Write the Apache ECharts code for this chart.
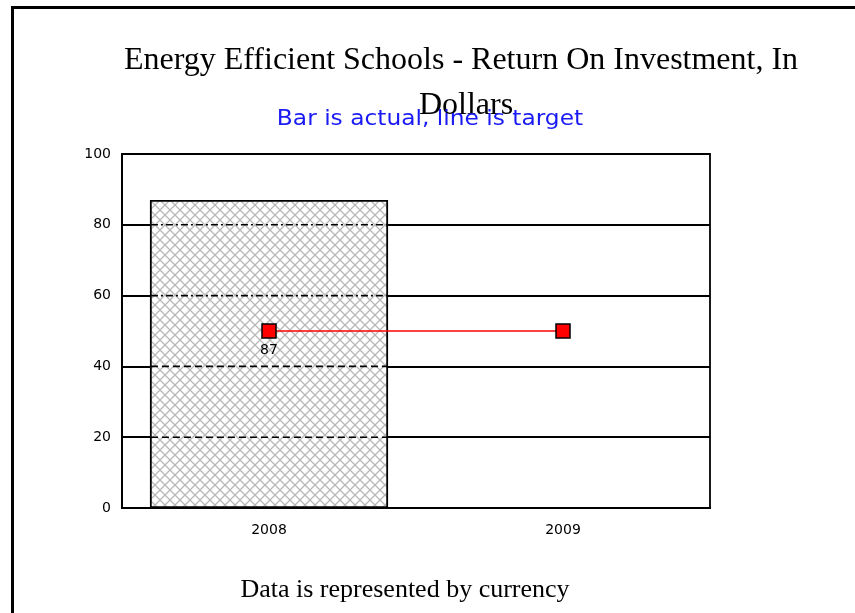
<!DOCTYPE html>
<html>
<head>
<meta charset="utf-8">
<script src="https://cdn.jsdelivr.net/npm/echarts@6/dist/echarts.min.js"></script>
<style>
html,body{margin:0;padding:0;background:#fff;}
#chart{width:855px;height:613px;}
</style>
</head>
<body>
<div id="chart"></div>
<script>
const categories = ['2008', '2009'];
const actual = [87, null];
const target = [50, 50];
const yMin = 0, yMax = 100, yInterval = 20;
const titleLines = ['Energy Efficient Schools - Return On Investment, In', 'Dollars'];
const subtitleText = 'Bar is actual, line is target';
const footerText = 'Data is represented by currency';

// hatch pattern
const pc = document.createElement('canvas');
pc.width = 10; pc.height = 10;
const pctx = pc.getContext('2d');
pctx.fillStyle = '#ffffff';
pctx.fillRect(0, 0, 10, 10);
pctx.strokeStyle = '#b8b8b8';
pctx.lineWidth = 1.3;
pctx.beginPath();
pctx.moveTo(0, 0); pctx.lineTo(10, 10);
pctx.moveTo(10, 0); pctx.lineTo(0, 10);
pctx.stroke();

const innerGrid = [];
for (let v = yMin + yInterval; v < yMax; v += yInterval) innerGrid.push(v);
const overlayData = [];
actual.forEach((a, i) => {
  if (a == null) return;
  innerGrid.forEach(v => { if (v < a) overlayData.push([i, v]); });
});

const chart = echarts.init(document.getElementById('chart'));
chart.setOption({
  backgroundColor: '#ffffff',
  animation: false,
  graphic: [{
    type: 'polyline',
    shape: { points: [[12.5, 613], [12.5, 7.5], [855, 7.5]] },
    style: { stroke: '#000', lineWidth: 3, fill: null }
  }, {
    type: 'text', x: 461, y: 61,
    style: { text: titleLines[0], font: '32px "Liberation Serif"', fill: '#000', align: 'center', verticalAlign: 'middle' }
  }, {
    type: 'text', x: 466, y: 106,
    style: { text: titleLines[1], font: '32px "Liberation Serif"', fill: '#000', align: 'center', verticalAlign: 'middle' }
  }, {
    type: 'text', x: 430, y: 120, scaleX: 1.11, z: 10,
    style: { text: subtitleText, font: '21px "DejaVu Sans"', fill: '#1a1af5', align: 'center', verticalAlign: 'middle' }
  }, {
    type: 'text', x: 405, y: 590,
    style: { text: footerText, font: '26px "Liberation Serif"', fill: '#000', align: 'center', verticalAlign: 'middle' }
  }],
  grid: { left: 122, top: 154, right: 145, bottom: 105, show: true, borderColor: '#000', borderWidth: 1.8, backgroundColor: 'transparent' },
  xAxis: {
    type: 'category', data: categories,
    axisLine: { lineStyle: { color: '#000', width: 2 } },
    axisTick: { show: false },
    axisLabel: { color: '#000', fontFamily: 'DejaVu Sans', fontSize: 14, margin: 15 }
  },
  yAxis: {
    type: 'value', min: yMin, max: yMax, interval: yInterval,
    axisLine: { show: true, lineStyle: { color: '#000', width: 2 } },
    axisTick: { show: false },
    axisLabel: { color: '#000', fontFamily: 'DejaVu Sans', fontSize: 14, margin: 11 },
    splitLine: { show: true, lineStyle: { color: '#000', width: 1.8 } }
  },
  series: [{
    type: 'bar', data: actual, barWidth: '81%', z: 2,
    itemStyle: { color: { image: pc, repeat: 'repeat' }, borderColor: '#000', borderWidth: 1.8 }
  }, {
    type: 'custom', z: 3, silent: true,
    data: overlayData,
    renderItem: function (params, api) {
      const ci = api.value(0), v = api.value(1);
      const p = api.coord([ci, v]);
      const bw = api.size([1, 0])[0] * 0.81;
      const dash = v > 50 ? [7, 3, 2, 3] : [7, 4];
      return {
        type: 'line',
        shape: { x1: p[0] - bw / 2 + 1, y1: p[1], x2: p[0] + bw / 2 - 1, y2: p[1] },
        style: { stroke: '#000', lineWidth: 1.6, lineDash: dash }
      };
    }
  }, {
    type: 'line', data: target, z: 4,
    symbol: 'rect', symbolSize: 14,
    lineStyle: { color: '#ff0000', width: 1.3 },
    itemStyle: { color: '#ff0000', borderColor: '#000', borderWidth: 1.5 },
    label: {
      show: true, position: 'bottom', distance: 5,
      color: '#000', fontFamily: 'DejaVu Sans', fontSize: 14,
      formatter: function (p) { const a = actual[p.dataIndex]; return a == null ? '' : String(a); }
    }
  }]
});
</script>
</body>
</html>
